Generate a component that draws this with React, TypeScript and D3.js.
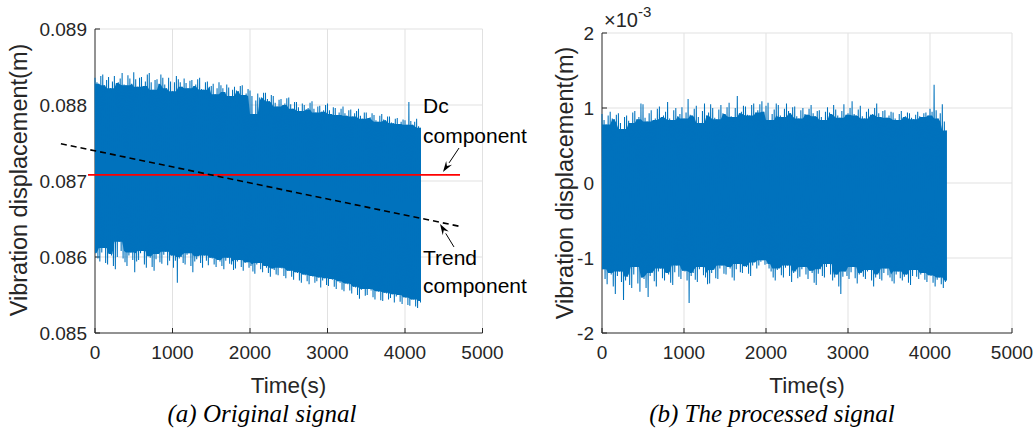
import React from "react";
import * as d3 from "d3";

// sample spacing of the envelope arrays (s)
const STEP = 25;

// (a) Original signal: upper / lower peak envelopes, in mm
const leftHi = [
  88.36, 88.3, 88.28, 88.38, 88.4, 88.26, 88.33, 88.37, 88.22, 88.31,
  88.38, 88.29, 88.3, 88.35, 88.42, 88.27, 88.26, 88.39, 88.35, 88.28,
  88.43, 88.34, 88.24, 88.36, 88.37, 88.25, 88.31, 88.4, 88.42, 88.3,
  88.2, 88.33, 88.34, 88.28, 88.4, 88.36, 88.27, 88.22, 88.36, 88.31,
  88.18, 88.3, 88.38, 88.34, 88.3, 88.24, 88.35, 88.29, 88.22, 88.32,
  88.33, 88.25, 88.27, 88.34, 88.36, 88.21, 88.2, 88.3, 88.31, 88.24,
  88.25, 88.28, 88.14, 88.22, 88.3, 88.26, 88.22, 88.17, 88.27, 88.23,
  88.12, 88.2, 88.24, 88.19, 88.18, 88.25, 88.26, 88.13, 88.15, 88.21,
  88.19, 88.12, 87.88, 88.06, 88.15, 88.1, 88.1, 88.16, 88.16, 88.08,
  88.05, 88.13, 88.12, 88.03, 87.98, 88.07, 88.08, 88.0, 88.02, 88.09,
  88.1, 88.01, 87.95, 88.04, 88.04, 87.97, 87.92, 88.02, 88.0, 87.94,
  87.96, 88.03, 88.05, 87.95, 87.9, 87.98, 87.99, 87.91, 87.93, 88.0,
  88.02, 87.93, 87.88, 87.97, 87.96, 87.87, 87.9, 87.95, 87.98, 87.89,
  87.86, 87.93, 87.94, 87.85, 87.89, 87.92, 87.95, 87.86, 87.82, 87.9,
  87.9, 87.83, 87.84, 87.89, 87.87, 87.8, 87.78, 87.86, 87.88, 87.81,
  87.8, 87.85, 87.85, 87.77, 87.76, 87.82, 87.83, 87.75, 87.78, 87.81,
  87.8, 87.74, 88.04, 87.79, 87.74, 87.78, 87.82, 87.72, 87.7,
];
const leftLo = [
  86.05, 85.98, 85.94, 86.06, 86.12, 85.92, 85.9, 86.04, 86.02, 85.88,
  85.84, 86.0, 86.2, 86.08, 85.98, 85.93, 85.88, 86.02, 86.06, 85.96,
  85.8, 85.94, 85.96, 86.05, 86.08, 85.9, 85.86, 86.01, 85.99, 85.87,
  85.82, 85.97, 86.04, 85.93, 85.91, 86.03, 86.07, 85.89, 85.95, 86.02,
  85.86, 85.95, 85.66, 85.98, 86.0, 85.92, 85.9, 86.03, 86.05, 85.88,
  85.8, 85.94, 85.97, 86.01, 85.92, 85.86, 86.02, 85.95, 85.89, 85.99,
  85.98, 85.9, 85.87, 85.96, 85.94, 85.88, 85.84, 85.95, 85.99, 85.91,
  85.9, 85.83, 85.85, 85.94, 85.96, 85.87, 85.82, 85.92, 85.93, 85.86,
  85.88, 85.81, 85.78, 85.9, 85.92, 85.84, 85.8, 85.88, 85.86, 85.79,
  85.74, 85.85, 85.83, 85.77, 85.76, 85.86, 85.85, 85.75, 85.72, 85.82,
  85.82, 85.74, 85.7, 85.8, 85.79, 85.69, 85.66, 85.77, 85.76, 85.68,
  85.64, 85.75, 85.74, 85.66, 85.68, 85.73, 85.6, 85.69, 85.72, 85.63,
  85.62, 85.71, 85.7, 85.61, 85.58, 85.68, 85.66, 85.57, 85.55, 85.65,
  85.64, 85.56, 85.52, 85.61, 85.6, 85.5, 85.45, 85.57, 85.58, 85.49,
  85.5, 85.58, 85.56, 85.47, 85.44, 85.55, 85.54, 85.43, 85.42, 85.53,
  85.52, 85.44, 85.46, 85.51, 85.4, 85.48, 85.5, 85.41, 85.38, 85.47,
  85.46, 85.37, 85.36, 85.44, 85.44, 85.35, 85.33, 85.42, 85.4,
];

// (b) Processed signal: upper / lower peak envelopes, in units of 1e-3 m
const rightHi = [
  0.92, 0.84, 0.78, 0.9, 0.95, 0.86, 0.85, 0.91, 0.93, 0.8,
  0.72, 0.88, 0.9, 0.83, 0.8, 0.94, 0.96, 0.85, 0.88, 1.06,
  1.05, 0.87, 0.82, 0.93, 0.97, 0.84, 0.86, 0.99, 1.02, 0.88,
  0.9, 0.95, 1.08, 0.86, 0.84, 0.97, 1.0, 0.89, 0.92, 1.01,
  0.86, 0.94, 1.12, 0.91, 0.9, 0.99, 1.03, 0.88, 0.8, 0.96,
  1.06, 0.9, 0.94, 1.05, 1.0, 0.87, 0.85, 0.98, 1.04, 0.93,
  0.92, 1.01, 1.07, 0.89, 0.88, 1.0, 1.16, 0.93, 0.95, 1.03,
  1.02, 0.91, 0.9, 1.04, 1.06, 0.94, 0.97, 1.05, 1.09, 0.95,
  1.03, 1.07, 0.84, 0.92, 0.98, 1.06, 1.04, 0.9, 0.88, 0.99,
  1.06, 0.96, 0.93, 1.01, 1.02, 0.89, 0.86, 0.97, 1.0, 0.92,
  0.91, 0.99, 1.04, 0.93, 0.89, 0.96, 0.97, 0.88, 0.84, 0.95,
  1.01, 0.94, 0.92, 1.04, 0.98, 0.9, 0.87, 0.96, 1.05, 0.91,
  0.93, 1.0, 1.09, 0.92, 0.9, 0.98, 1.03, 0.89, 0.86, 0.95,
  0.99, 0.91, 0.92, 1.0, 1.06, 0.93, 0.88, 0.96, 0.97, 0.87,
  0.9, 0.95, 0.94, 0.86, 0.84, 0.92, 0.96, 0.88, 0.89, 0.94,
  0.93, 0.87, 0.85, 0.91, 0.95, 0.89, 0.88, 0.93, 0.94, 0.9,
  0.99, 0.95, 1.31, 0.97, 0.86, 0.93, 1.05, 0.82, 0.7,
];
const rightLo = [
  -1.15, -1.28, -1.35, -1.2, -1.22, -1.38, -1.48, -1.24, -1.18, -1.32,
  -1.56, -1.3, -1.25, -1.36, -1.4, -1.22, -1.12, -1.34, -1.45, -1.26,
  -1.28, -1.4, -1.52, -1.24, -1.2, -1.31, -1.38, -1.18, -1.14, -1.27,
  -1.3, -1.2, -1.22, -1.33, -1.36, -1.19, -1.1, -1.25, -1.28, -1.17,
  -1.18, -1.3, -1.6, -1.24, -1.2, -1.29, -1.32, -1.15, -1.12, -1.23,
  -1.26, -1.35, -1.34, -1.2, -1.16, -1.27, -1.28, -1.14, -1.1, -1.21,
  -1.22, -1.12, -1.14, -1.26, -1.3, -1.15, -1.08, -1.19, -1.2, -1.11,
  -1.12, -1.21, -1.24, -1.1, -1.06, -1.14, -1.1, -1.05, -1.03, -1.09,
  -1.08, -1.14, -1.18, -1.26, -1.3, -1.16, -1.14, -1.23, -1.26, -1.13,
  -1.1, -1.24, -1.32, -1.2, -1.18, -1.27, -1.25, -1.15, -1.12, -1.22,
  -1.28, -1.17, -1.2, -1.33, -1.36, -1.21, -1.15, -1.24, -1.26, -1.12,
  -1.08, -1.22, -1.3, -1.26, -1.22, -1.38, -1.48, -1.25, -1.18, -1.24,
  -1.28, -1.19, -1.12, -1.27, -1.34, -1.22, -1.2, -1.25, -1.28, -1.18,
  -1.16, -1.3, -1.38, -1.26, -1.22, -1.28, -1.3, -1.2, -1.14, -1.23,
  -1.26, -1.31, -1.34, -1.22, -1.18, -1.27, -1.3, -1.25, -1.22, -1.33,
  -1.36, -1.24, -1.16, -1.25, -1.28, -1.22, -1.2, -1.29, -1.32, -1.23,
  -1.24, -1.33, -1.38, -1.29, -1.26, -1.35, -1.4, -1.32, -1.3,
];

const xTicks = [0, 1000, 2000, 3000, 4000, 5000];
const leftYTicks = [0.085, 0.086, 0.087, 0.088, 0.089];
const rightYTicks = [-2, -1, 0, 1, 2];

// Dc component (m) and trend component (m)
const dcT = [-90, 4710];
const dcV = [0.08708, 0.08708];
const trendT = [-440, 4720];
const trendV = [0.08749, 0.0864];

// annotation anchors (time s, value m)
const dcLabel = { t: 4232, v1: 0.087895, v2: 0.0875, tailT: 4697, tailV: 0.087434, headT: 4490, headV: 0.087118 };
const trendLabel = { t: 4232, v1: 0.085895, v2: 0.085526, tailT: 4632, tailV: 0.086132, headT: 4452, headV: 0.086434 };

const BLUE = "#0072BD";
const AX = "#262626";
const GRID = "#e1e1e1";
const SANS = "'Liberation Sans', Arial, Helvetica, sans-serif";
const SERIF = "'Liberation Serif', 'Times New Roman', serif";

type Sc = d3.ScaleLinear<number, number>;

function SignalMarks({ hi, lo, x, y, k }: { hi: number[]; lo: number[]; x: Sc; y: Sc; k: number }) {
  const n = hi.length;
  const W = 2;
  const pts = hi.map((h, i) => {
    const a = Math.max(0, i - W);
    const b = Math.min(n - 1, i + W);
    const top = d3.min(hi.slice(a, b + 1)) as number;
    const bot = d3.max(lo.slice(a, b + 1)) as number;
    return { t: i * STEP, top: top * k, bot: bot * k };
  });
  const area = d3
    .area<{ t: number; top: number; bot: number }>()
    .x((d) => x(d.t))
    .y0((d) => y(d.bot))
    .y1((d) => y(d.top))(pts) as string;
  // zigzag through the peaks and troughs of the oscillation
  const zz: [number, number][] = [];
  hi.forEach((h, i) => {
    const t = i * STEP;
    zz.push([x(t), y(h * k)]);
    zz.push([x(Math.min(t + STEP / 2, (n - 1) * STEP)), y(lo[i] * k)]);
  });
  const zig = d3.line()(zz) as string;
  return (
    <g>
      <path d={area} fill={BLUE} stroke="none" />
      <path d={zig} fill="none" stroke={BLUE} strokeWidth={1.05} strokeLinejoin="miter" strokeMiterlimit={2} />
    </g>
  );
}

function Axes({ x, y, yTicks, fmt }: { x: Sc; y: Sc; yTicks: number[]; fmt: (v: number) => string }) {
  const [x0, x1] = x.range();
  const [yb, yt] = y.range();
  return (
    <g>
      {xTicks.slice(1).map((t) => (
        <line key={"gx" + t} x1={x(t)} x2={x(t)} y1={yb} y2={yt} stroke={GRID} strokeWidth={1} />
      ))}
      {yTicks.slice(1).map((v) => (
        <line key={"gy" + v} x1={x0} x2={x1} y1={y(v)} y2={y(v)} stroke={GRID} strokeWidth={1} />
      ))}
      <line x1={x0} x2={x0} y1={yb} y2={yt} stroke={AX} strokeWidth={1} />
      <line x1={x0} x2={x1} y1={yb} y2={yb} stroke={AX} strokeWidth={1} />
      {xTicks.map((t) => (
        <g key={"tx" + t}>
          <line x1={x(t)} x2={x(t)} y1={yb} y2={yb - 5} stroke={AX} strokeWidth={1} />
          <text x={x(t)} y={yb + 26} textAnchor="middle" fontFamily={SANS} fontSize={19} fill={AX}>
            {t}
          </text>
        </g>
      ))}
      {yTicks.map((v) => (
        <g key={"ty" + v}>
          <line x1={x0} x2={x0 + 5} y1={y(v)} y2={y(v)} stroke={AX} strokeWidth={1} />
          <text x={x0 - 8} y={y(v) + 7} textAnchor="end" fontFamily={SANS} fontSize={19} fill={AX}>
            {fmt(v)}
          </text>
        </g>
      ))}
    </g>
  );
}

function Arrow({ x1, y1, x2, y2 }: { x1: number; y1: number; x2: number; y2: number }) {
  const ang = Math.atan2(y2 - y1, x2 - x1);
  const L = 11;
  const W = 3.5;
  const bx = x2 - L * Math.cos(ang);
  const by = y2 - L * Math.sin(ang);
  const px = -Math.sin(ang) * W;
  const py = Math.cos(ang) * W;
  return (
    <g>
      <line x1={x1} y1={y1} x2={bx} y2={by} stroke="#000" strokeWidth={1} />
      <path d={`M${x2},${y2}L${bx + px},${by + py}L${bx + 0.35 * (x2 - bx)},${by + 0.35 * (y2 - by)}L${bx - px},${by - py}Z`} fill="#000" />
    </g>
  );
}

export default function App() {
  const xL = d3.scaleLinear().domain([0, 5000]).range([95, 482.5]);
  const yL = d3.scaleLinear().domain([0.085, 0.089]).range([333, 29]);
  const xR = d3.scaleLinear().domain([0, 5000]).range([602, 1012]);
  const yR = d3.scaleLinear().domain([-2, 2]).range([333, 33]);

  const line = (xs: Sc, ys: Sc, ts: number[], vs: number[]) =>
    d3.line<number>().x((_, i) => xs(ts[i])).y((v) => ys(v))(vs) as string;

  const fmtL = (v: number) => v.toFixed(3);
  const fmtR = (v: number) => String(v);

  return (
    <svg width={1036} height={430} style={{ position: "absolute", left: 0, top: 0, background: "#fff" }}>
      <rect width={1036} height={430} fill="#fff" />
      {/* Left panel */}
      <Axes x={xL} y={yL} yTicks={leftYTicks} fmt={fmtL} />
      <SignalMarks hi={leftHi} lo={leftLo} x={xL} y={yL} k={0.001} />
      <path d={line(xL, yL, dcT, dcV)} fill="none" stroke="#ff0000" strokeWidth={1.6} />
      <path d={line(xL, yL, trendT, trendV)} fill="none" stroke="#000" strokeWidth={1.6} strokeDasharray="6,4" />
      <text x={xL(dcLabel.t)} y={yL(dcLabel.v1)} fontFamily={SANS} fontSize={21} fill="#000">Dc</text>
      <text x={xL(dcLabel.t)} y={yL(dcLabel.v2)} fontFamily={SANS} fontSize={21} fill="#000">component</text>
      <Arrow x1={xL(dcLabel.tailT)} y1={yL(dcLabel.tailV)} x2={xL(dcLabel.headT)} y2={yL(dcLabel.headV)} />
      <text x={xL(trendLabel.t)} y={yL(trendLabel.v1)} fontFamily={SANS} fontSize={21} fill="#000">Trend</text>
      <text x={xL(trendLabel.t)} y={yL(trendLabel.v2)} fontFamily={SANS} fontSize={21} fill="#000">component</text>
      <Arrow x1={xL(trendLabel.tailT)} y1={yL(trendLabel.tailV)} x2={xL(trendLabel.headT)} y2={yL(trendLabel.headV)} />
      <text transform="translate(27,180) rotate(-90)" textAnchor="middle" fontFamily={SANS} fontSize={23.5} fill={AX}>
        Vibration displacement(m)
      </text>
      <text x={288.5} y={393} textAnchor="middle" fontFamily={SANS} fontSize={22.5} fill={AX}>Time(s)</text>
      <text x={262} y={422} textAnchor="middle" fontFamily={SERIF} fontStyle="italic" fontSize={25} fill="#000">
        (a) Original signal
      </text>

      {/* Right panel */}
      <Axes x={xR} y={yR} yTicks={rightYTicks} fmt={fmtR} />
      <SignalMarks hi={rightHi} lo={rightLo} x={xR} y={yR} k={1} />
      <text x={604} y={27} fontFamily={SANS} fontSize={20} fill={AX}>
        ×10
        <tspan dy={-10} fontSize={15}>-3</tspan>
      </text>
      <text transform="translate(573,183) rotate(-90)" textAnchor="middle" fontFamily={SANS} fontSize={23.5} fill={AX}>
        Vibration displacement(m)
      </text>
      <text x={807} y={393} textAnchor="middle" fontFamily={SANS} fontSize={22.5} fill={AX}>Time(s)</text>
      <text x={772} y={422} textAnchor="middle" fontFamily={SERIF} fontStyle="italic" fontSize={25} fill="#000">
        (b) The processed signal
      </text>
    </svg>
  );
}
